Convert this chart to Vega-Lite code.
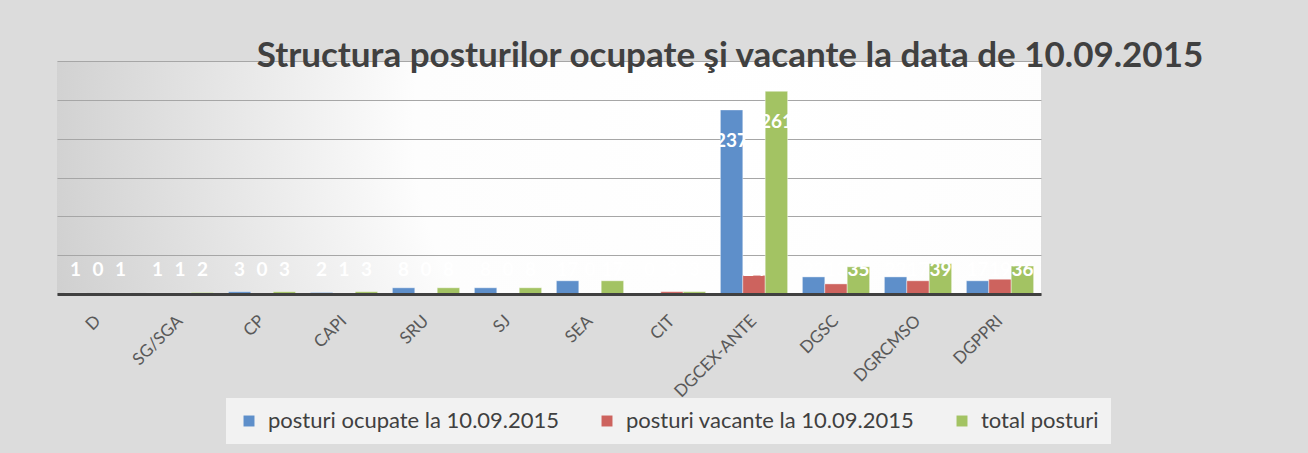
{
  "$schema": "https://vega.github.io/schema/vega-lite/v6.json",
  "width": 984,
  "height": 233,
  "autosize": {"type": "none"},
  "padding": {"left": 57, "top": 61, "right": 267, "bottom": 159},
  "background": "#dcdcdc",
  "title": {
    "text": "Structura posturilor ocupate şi vacante la data de 10.09.2015",
    "font": "Lato",
    "fontSize": 35,
    "fontWeight": "bold",
    "color": "#404040",
    "anchor": "middle",
    "frame": "group",
    "dx": 181,
    "dy": 37,
    "baseline": "alphabetic",
    "offset": -4
  },
  "data": {
    "values": [
      {"category": "D", "series": "posturi ocupate la 10.09.2015", "value": 1},
      {"category": "D", "series": "posturi vacante la 10.09.2015", "value": 0},
      {"category": "D", "series": "total posturi", "value": 1},
      {"category": "SG/SGA", "series": "posturi ocupate la 10.09.2015", "value": 1},
      {"category": "SG/SGA", "series": "posturi vacante la 10.09.2015", "value": 1},
      {"category": "SG/SGA", "series": "total posturi", "value": 2},
      {"category": "CP", "series": "posturi ocupate la 10.09.2015", "value": 3},
      {"category": "CP", "series": "posturi vacante la 10.09.2015", "value": 0},
      {"category": "CP", "series": "total posturi", "value": 3},
      {"category": "CAPI", "series": "posturi ocupate la 10.09.2015", "value": 2},
      {"category": "CAPI", "series": "posturi vacante la 10.09.2015", "value": 1},
      {"category": "CAPI", "series": "total posturi", "value": 3},
      {"category": "SRU", "series": "posturi ocupate la 10.09.2015", "value": 8},
      {"category": "SRU", "series": "posturi vacante la 10.09.2015", "value": 0},
      {"category": "SRU", "series": "total posturi", "value": 8},
      {"category": "SJ", "series": "posturi ocupate la 10.09.2015", "value": 8},
      {"category": "SJ", "series": "posturi vacante la 10.09.2015", "value": 0},
      {"category": "SJ", "series": "total posturi", "value": 8},
      {"category": "SEA", "series": "posturi ocupate la 10.09.2015", "value": 17},
      {"category": "SEA", "series": "posturi vacante la 10.09.2015", "value": 0},
      {"category": "SEA", "series": "total posturi", "value": 17},
      {"category": "CIT", "series": "posturi ocupate la 10.09.2015", "value": 0},
      {"category": "CIT", "series": "posturi vacante la 10.09.2015", "value": 3},
      {"category": "CIT", "series": "total posturi", "value": 3},
      {"category": "DGCEX-ANTE", "series": "posturi ocupate la 10.09.2015", "value": 237},
      {"category": "DGCEX-ANTE", "series": "posturi vacante la 10.09.2015", "value": 24},
      {"category": "DGCEX-ANTE", "series": "total posturi", "value": 261},
      {"category": "DGSC", "series": "posturi ocupate la 10.09.2015", "value": 22},
      {"category": "DGSC", "series": "posturi vacante la 10.09.2015", "value": 13},
      {"category": "DGSC", "series": "total posturi", "value": 35},
      {"category": "DGRCMSO", "series": "posturi ocupate la 10.09.2015", "value": 22},
      {"category": "DGRCMSO", "series": "posturi vacante la 10.09.2015", "value": 17},
      {"category": "DGRCMSO", "series": "total posturi", "value": 39},
      {"category": "DGPPRI", "series": "posturi ocupate la 10.09.2015", "value": 17},
      {"category": "DGPPRI", "series": "posturi vacante la 10.09.2015", "value": 19},
      {"category": "DGPPRI", "series": "total posturi", "value": 36}
    ]
  },
  "encoding": {
    "x": {
      "field": "category",
      "type": "nominal",
      "sort": null,
      "scale": {"paddingInner": 0.18, "paddingOuter": 0.09},
      "axis": {
        "title": null,
        "ticks": false,
        "labelAngle": -45,
        "labelAlign": "right",
        "labelBaseline": "middle",
        "labelPadding": 24,
        "labelFont": "Lato",
        "labelFontSize": 17,
        "labelColor": "#595959",
        "domainColor": "#404040",
        "domainWidth": 3,
        "grid": false,
        "zindex": 1
      }
    },
    "xOffset": {"field": "series", "type": "nominal", "sort": null}
  },
  "layer": [
    {
      "mark": {"type": "bar", "stroke": "#ffffff", "strokeOpacity": 0.4, "strokeWidth": 1},
      "encoding": {
        "y": {
          "field": "value",
          "type": "quantitative",
          "scale": {"domain": [0, 300], "nice": false},
          "axis": {"title": null, "labels": false, "ticks": false, "domain": false, "grid": true, "values": [0, 50, 100, 150, 200, 250, 300], "gridColor": "#a6a6a6", "gridWidth": 1}
        },
        "color": {
          "field": "series",
          "type": "nominal",
          "sort": null,
          "scale": {"range": ["#5e8fca", "#cd635e", "#a3c363"]},
          "legend": {
            "title": null,
            "orient": "none",
            "legendX": 169,
            "legendY": 337,
            "direction": "horizontal",
            "symbolType": "square",
            "symbolSize": 120,
            "symbolStrokeWidth": 0,
            "labelFont": "Lato",
            "labelFontSize": 22,
            "labelColor": "#404040",
            "labelOffset": 8,
            "labelLimit": 400,
            "columnPadding": 36,
            "fillColor": "#f2f2f2",
            "padding": 12
          }
        }
      }
    },
    {
      "transform": [{"filter": "datum.value > 70"}],
      "mark": {"type": "text", "font": "Lato", "fontSize": 19, "fontWeight": "bold", "color": "#ffffff", "baseline": "middle", "dy": 31},
      "encoding": {
        "y": {
          "field": "value",
          "type": "quantitative",
          "axis": {"title": null, "labels": false, "ticks": false, "domain": false, "grid": true, "values": [0, 50, 100, 150, 200, 250, 300], "gridColor": "#a6a6a6", "gridWidth": 1}
        },
        "text": {"field": "value", "type": "quantitative"}
      }
    },
    {
      "transform": [{"filter": "datum.value <= 70"}],
      "mark": {"type": "text", "font": "Lato", "fontSize": 19, "fontWeight": "bold", "color": "#ffffff", "baseline": "middle"},
      "encoding": {
        "y": {
          "datum": 31,
          "type": "quantitative",
          "axis": {"title": null, "labels": false, "ticks": false, "domain": false, "grid": true, "values": [0, 50, 100, 150, 200, 250, 300], "gridColor": "#a6a6a6", "gridWidth": 1}
        },
        "text": {"field": "value", "type": "quantitative"}
      }
    }
  ],
  "config": {
    "view": {
      "stroke": null,
      "fill": {
        "gradient": "radial",
        "x1": 0.7, "y1": 0.45, "r1": 0,
        "x2": 0.7, "y2": 0.45, "r2": 0.75,
        "stops": [
          {"offset": 0, "color": "#ffffff"},
          {"offset": 0.45, "color": "#fdfdfd"},
          {"offset": 1, "color": "#cccccc"}
        ]
      }
    }
  }
}
